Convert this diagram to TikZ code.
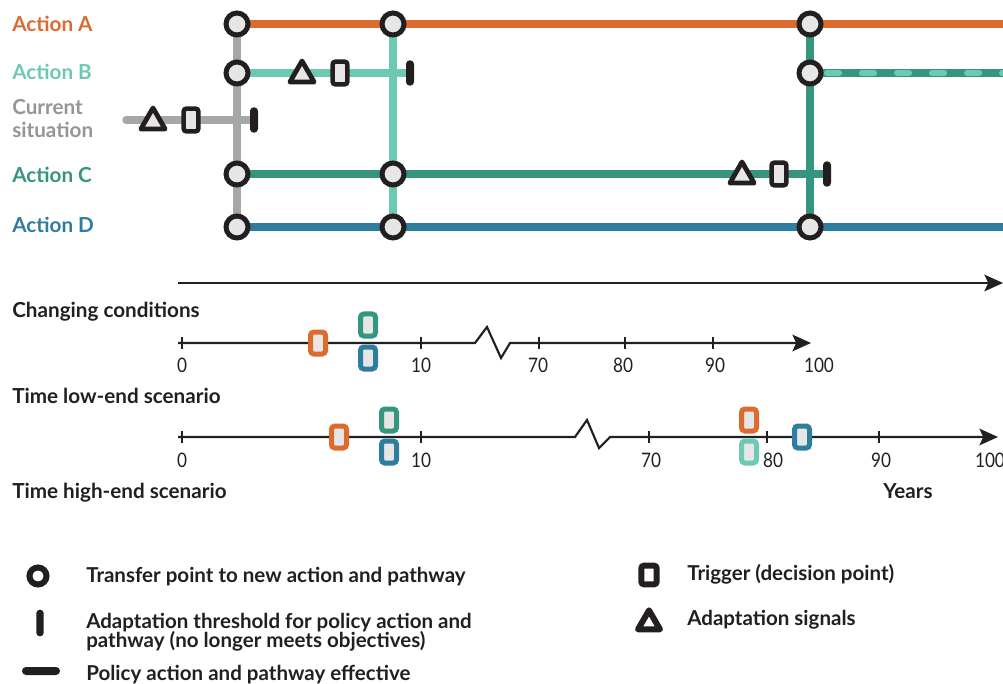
\documentclass[tikz,border=0pt]{standalone}
\usepackage{fontspec}
\setmainfont{Lato}
\newfontfamily\tickfont[FakeStretch=0.86]{Lato}
\usetikzlibrary{shapes.geometric,arrows.meta}
\definecolor{cA}{HTML}{DC6B2F}
\definecolor{cB}{HTML}{6DC8B4}
\definecolor{cC}{HTML}{36957F}
\definecolor{cD}{HTML}{2F7D9E}
\definecolor{cG}{HTML}{A6A7A9}
\definecolor{cGt}{HTML}{939598}
\definecolor{ink}{HTML}{231F20}
\definecolor{fillg}{HTML}{E6E6E6}
\begin{document}
\begin{tikzpicture}[x=0.75pt,y=-0.75pt,
  lbl/.style={anchor=base west, inner sep=0, font=\fontsize{15.5pt}{18pt}\selectfont\bfseries},
  leg/.style={anchor=base west, inner sep=0, text=ink, font=\fontsize{15.4pt}{18pt}\selectfont\bfseries},
  ticklbl/.style={anchor=base, inner sep=0, text=ink, font=\tickfont\fontsize{15pt}{18pt}\selectfont},
  route/.style={line width=5.6pt},
  transfer/.style={circle, draw=ink, fill=fillg, line width=3.75pt, minimum size=16.5pt, inner sep=0},
  trigger/.style={rectangle, rounded corners=2pt, draw=ink, fill=fillg, line width=3.4pt, minimum width=11pt, minimum height=17pt, inner sep=0},
  signal/.style={regular polygon, regular polygon sides=3, draw=ink, fill=fillg, line width=3.6pt, line join=round, minimum size=21pt, inner sep=0},
  threshold/.style={rectangle, rounded corners=2.8pt, fill=ink, minimum width=6pt, minimum height=19pt, inner sep=0},
  ctrig/.style={rectangle, rounded corners=2.5pt, draw=#1, fill=fillg, line width=3.75pt, minimum width=11.25pt, minimum height=16.5pt, inner sep=0},
  axis/.style={line width=1.6pt, draw=ink, line join=miter},
  tickmark/.style={line width=1.6pt, draw=ink},
  tip/.style={-{Stealth[length=14pt,width=12.5pt,inset=3pt]}}
]
\useasboundingbox (0,0) rectangle (1003,684);

% ---------- coordinates of the pathways map ----------
\coordinate (a0) at (237,24);  \coordinate (b0) at (237,73);
\coordinate (c0) at (237,174); \coordinate (d0) at (237,227);
\coordinate (a1) at (393,24);  \coordinate (c1) at (393,174); \coordinate (d1) at (393,227);
\coordinate (a2) at (810,24);  \coordinate (b2) at (810,73);  \coordinate (d2) at (810,227);
\coordinate (aend) at (1003,24); \coordinate (bend) at (1003,73); \coordinate (dend) at (1003,227);
\coordinate (cs) at (126,120);
\coordinate (bsig) at (302,75); \coordinate (btrg) at (340,73); \coordinate (bthr) at (410,73);
\coordinate (ssig) at (153,122); \coordinate (strg) at (191,120); \coordinate (sthr) at (254,120);
\coordinate (csig) at (742,176); \coordinate (ctrg) at (779,174); \coordinate (cthr) at (827,174);

% ---------- labels ----------
\node[lbl, text=cA] (lA) at (12,32) {Action A};
\node[lbl, text=cB] (lB) at (12,80) {Action B};
\node[lbl, text=cGt] (lS1) at (12,115) {Current};
\node[lbl, text=cGt] (lS2) at (12,138) {situation};
\node[lbl, text=cC] (lC) at (12,183) {Action C};
\node[lbl, text=cD] (lD) at (12,233) {Action D};

% ---------- routes ----------
\draw[route, cG, line cap=round] (cs) -- (sthr);
\draw[route, cA] (a0) -- (aend);
\draw[route, cB] (b0) -- (bthr);
\draw[route, cC] (c0) -- (cthr);
\draw[route, cD] (d0) -- (dend);
\draw[route, cC] (b2) -- (bend);
\draw[line width=4.6pt, cB, line cap=round, dash pattern=on 9pt off 17.25pt, dash phase=13.45pt] (b2) -- (bend);
\draw[route, cG] (a0) -- (d0);
\draw[route, cB] (a1) -- (d1);
\draw[route, cC] (a2) -- (d2);

% ---------- transfer points ----------
\foreach \n in {a0,b0,c0,d0,a1,c1,d1,a2,b2,d2}
  \node[transfer] (t\n) at (\n) {};

% ---------- signals, triggers, thresholds ----------
\node[signal] (sigB) at (bsig) {};
\node[trigger] (trgB) at (btrg) {};
\node[threshold] (thrB) at (bthr) {};
\node[signal] (sigS) at (ssig) {};
\node[trigger] (trgS) at (strg) {};
\node[threshold] (thrS) at (sthr) {};
\node[signal] (sigC) at (csig) {};
\node[trigger] (trgC) at (ctrg) {};
\node[threshold] (thrC) at (cthr) {};

% ---------- main time arrow ----------
\coordinate (m0) at (178,283); \coordinate (m1) at (1003,283);
\draw[axis, tip] (m0) -- (m1);

% ---------- timeline 1 ----------
\node[lbl, text=ink] (lcc) at (12,318) {Changing conditions};
\coordinate (p0) at (178,343); \coordinate (p1) at (475,343);
\coordinate (p2) at (487,327); \coordinate (p3) at (501,358);
\coordinate (p4) at (510,343); \coordinate (p5) at (811,343);
\draw[axis, tip] (p0) -- (p1) -- (p2) -- (p3) -- (p4) -- (p5);
\foreach \x in {182,421,539,625,713}
  \draw[tickmark] (\x,337) -- (\x,349);
\node[ticklbl] (u0) at (182,373) {0};
\node[ticklbl] (u10) at (421,373) {10};
\node[ticklbl] (u70) at (538,373) {70};
\node[ticklbl] (u80) at (623,373) {80};
\node[ticklbl] (u90) at (715,373) {90};
\node[ticklbl] (u100) at (819,373) {100};
\node[ctrig=cA] (k1) at (318,343) {};
\node[ctrig=cC] (k2) at (368,325) {};
\node[ctrig=cD] (k3) at (368,358) {};

% ---------- timeline 2 ----------
\node[lbl, text=ink] (llow) at (12,403) {Time low-end scenario};
\coordinate (q0) at (178,437); \coordinate (q1) at (575,437);
\coordinate (q2) at (587,420); \coordinate (q3) at (599,448);
\coordinate (q4) at (610,437); \coordinate (q5) at (998,437);
\draw[axis, tip] (q0) -- (q1) -- (q2) -- (q3) -- (q4) -- (q5);
\foreach \x in {182,421,649,767,879}
  \draw[tickmark] (\x,431) -- (\x,443);
\node[ticklbl] (v0) at (182,467) {0};
\node[ticklbl] (v10) at (421,467) {10};
\node[ticklbl] (v70) at (651,467) {70};
\node[ticklbl] (v80) at (773,467) {80};
\node[ticklbl] (v90) at (881,467) {90};
\node[ticklbl] (v100) at (990,467) {100};
\node[ctrig=cA] (h1) at (339,437) {};
\node[ctrig=cC] (h2) at (389,420) {};
\node[ctrig=cD] (h3) at (389,452) {};
\node[ctrig=cA] (h4) at (749,420) {};
\node[ctrig=cB] (h5) at (749,452) {};
\node[ctrig=cD] (h6) at (802,437) {};
\node[lbl, text=ink] (lhigh) at (12,498) {Time high-end scenario};
\node[lbl, text=ink] (lyears) at (883,498) {Years};

% ---------- legend ----------
\node[circle, draw=ink, fill=white, line width=4.5pt, minimum size=12.75pt, inner sep=0] (gcirc) at (38,576) {};
\node[leg] (gt1) at (86,582) {Transfer point to new action and pathway};
\node[rectangle, rounded corners=2.6pt, fill=ink, minimum width=5.5pt, minimum height=20pt, inner sep=0] (gbar) at (40,623) {};
\node[leg] (gt2) at (86,628) {Adaptation threshold for policy action and};
\node[leg] (gt3) at (86,647) {pathway (no longer meets objectives)};
\node[rectangle, rounded corners=3pt, fill=ink, minimum width=28.5pt, minimum height=6pt, inner sep=0] (ghbar) at (41,671) {};
\node[leg] (gt4) at (86,680) {Policy action and pathway effective};
\node[rectangle, rounded corners=2pt, draw=ink, fill=white, line width=4.5pt, minimum width=11.5pt, minimum height=14pt, inner sep=0] (gtrg) at (649,575) {};
\node[leg] (gt5) at (687,580) {Trigger (decision point)};
\node[regular polygon, regular polygon sides=3, draw=ink, fill=white, line width=4.5pt, line join=round, minimum size=19pt, inner sep=0] (gsig) at (649,623) {};
\node[leg] (gt6) at (687,625) {Adaptation signals};
\end{tikzpicture}
\end{document}
